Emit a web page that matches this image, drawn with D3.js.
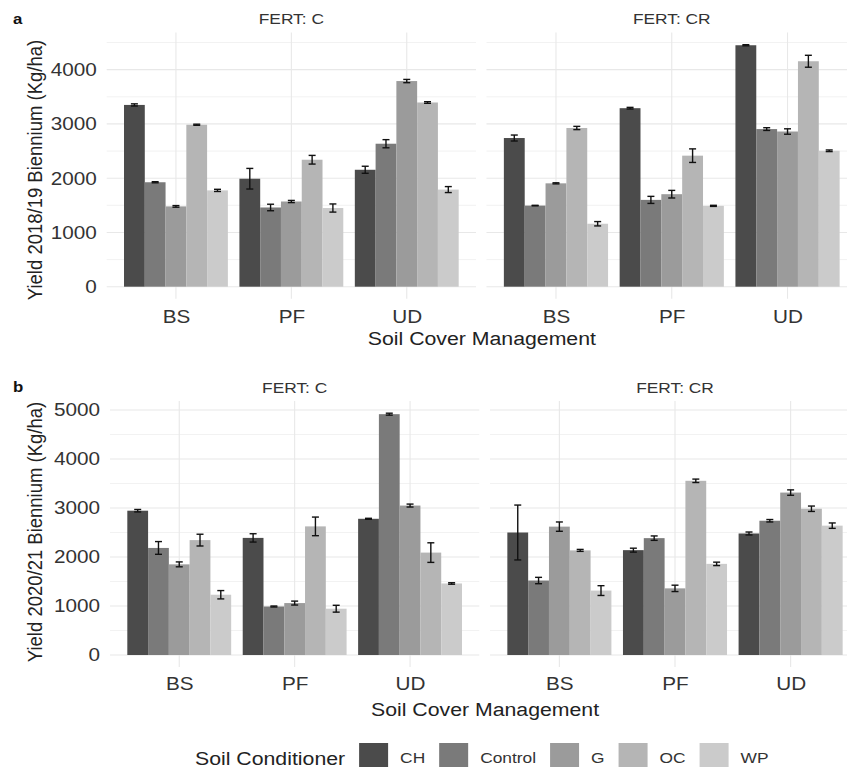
<!DOCTYPE html>
<html>
<head>
<meta charset="utf-8">
<script src="https://cdn.jsdelivr.net/npm/d3@7"></script>
<style>
  html, body { margin: 0; padding: 0; background: #ffffff; }
  svg { display: block; font-family: "Liberation Sans", Arial, Helvetica, sans-serif; }
</style>
</head>
<body>
<script>
// Soil cover management levels, soil conditioners and fertilisation treatments
const covers = ["BS", "PF", "UD"];
const conditioners = ["CH", "Control", "G", "OC", "WP"];
const ferts = ["C", "CR"];

// Mean yields (Kg/ha), ordered BS(CH, Control, G, OC, WP), PF(...), UD(...)
const yield1819C  = [3350, 1925, 1480, 2985, 1775,  1990, 1460, 1570, 2340, 1450,  2155, 2635, 3790, 3395, 1790];
const se1819C     = [20, 10, 15, 10, 20,  190, 60, 20, 80, 75,  65, 75, 30, 15, 55];
const yield1819CR = [2740, 1495, 1905, 2925, 1160,  3290, 1600, 1705, 2415, 1490,  4450, 2905, 2860, 4155, 2505];
const se1819CR    = [55, 5, 10, 30, 40,  15, 65, 70, 125, 10,  10, 25, 50, 110, 15];

const yield2021C  = [2945, 2185, 1850, 2345, 1230,  2390, 990, 1060, 2625, 945,  2780, 4915, 3050, 2090, 1460];
const se2021C     = [25, 130, 50, 120, 85,  85, 10, 40, 190, 70,  10, 20, 30, 200, 15];
const yield2021CR = [2500, 1520, 2620, 2135, 1315,  2140, 2385, 1360, 3555, 1860,  2480, 2740, 3315, 2985, 2640];
const se2021CR    = [560, 65, 95, 20, 100,  40, 45, 65, 35, 35,  30, 25, 55, 55, 55];

const yTicks1819 = [0, 1000, 2000, 3000, 4000];
const yTicks2021 = [0, 1000, 2000, 3000, 4000, 5000];

const greyFill = ["#4b4b4b", "#7a7a7a", "#9b9b9b", "#b5b5b5", "#cbcbcb"];

const W = 847, H = 769;
const SX = 1.12; // horizontal text stretch
const FONT = '"Liberation Sans", Arial, Helvetica, sans-serif';

const rows = [
  {
    tag: "a", tagY: 24,
    title: "Yield 2018/19 Biennium (Kg/ha)", titleY: 170,
    means: { C: yield1819C, CR: yield1819CR },
    se: { C: se1819C, CR: se1819CR },
    ticks: yTicks1819,
    panels: [[106.7, 476], [486.5, 857]],
    top: 32.6, bottom: 298.8,
    stripY: 24, tickPad: 10.6, xTitleY: 345
  },
  {
    tag: "b", tagY: 392,
    title: "Yield 2020/21 Biennium (Kg/ha)", titleY: 532,
    means: { C: yield2021C, CR: yield2021CR },
    se: { C: se2021C, CR: se2021CR },
    ticks: yTicks2021,
    panels: [[110, 479.3], [490, 860]],
    top: 401.1, bottom: 667.1,
    stripY: 392.5, tickPad: 9.6, xTitleY: 716
  }
];

const color = d3.scaleOrdinal().domain(conditioners).range(greyFill);

const svg = d3.select("body").append("svg")
  .attr("width", W).attr("height", H)
  .attr("font-family", FONT);

svg.append("rect").attr("width", W).attr("height", H).attr("fill", "#ffffff");

rows.forEach(row => {
  const maxV = d3.max(ferts.flatMap(f => row.means[f].map((m, i) => m + row.se[f][i])));
  const pad = 0.05 * maxV;
  const y = d3.scaleLinear().domain([-pad, maxV + pad]).range([row.bottom, row.top]);
  const minorTicks = d3.range(500, maxV + pad, 1000);

  ferts.forEach((f, pi) => {
    const [x0, x1] = row.panels[pi];
    const x = d3.scalePoint().domain(covers).range([x0, x1]).padding(0.6);
    const inner = d3.scaleBand().domain(conditioners)
      .range([-0.45 * x.step(), 0.45 * x.step()]);

    const g = svg.append("g");

    // minor horizontal grid
    g.append("g").selectAll("line").data(minorTicks).join("line")
      .attr("x1", x0).attr("x2", x1)
      .attr("y1", d => y(d)).attr("y2", d => y(d))
      .attr("stroke", "#f0f0f0").attr("stroke-width", 0.9);

    // major horizontal grid
    g.append("g").selectAll("line").data(row.ticks).join("line")
      .attr("x1", x0).attr("x2", x1)
      .attr("y1", d => y(d)).attr("y2", d => y(d))
      .attr("stroke", "#e8e8e8").attr("stroke-width", 1.1);

    // vertical grid at each cover category
    g.append("g").selectAll("line").data(covers).join("line")
      .attr("x1", d => x(d)).attr("x2", d => x(d))
      .attr("y1", row.top).attr("y2", row.bottom)
      .attr("stroke", "#e8e8e8").attr("stroke-width", 1.1);

    const data = covers.flatMap((c, ci) => conditioners.map((k, ki) => ({
      cover: c, cond: k,
      v: row.means[f][ci * conditioners.length + ki],
      e: row.se[f][ci * conditioners.length + ki]
    })));

    // bars
    g.append("g").selectAll("rect").data(data).join("rect")
      .attr("x", d => x(d.cover) + inner(d.cond))
      .attr("width", inner.bandwidth())
      .attr("y", d => y(d.v))
      .attr("height", d => y(0) - y(d.v))
      .attr("fill", d => color(d.cond));

    // error bars
    const capHalf = 3.5;
    const eb = g.append("g").attr("stroke", "#111111").attr("stroke-width", 1.4)
      .selectAll("g").data(data).join("g")
      .attr("transform", d => `translate(${x(d.cover) + inner(d.cond) + inner.bandwidth() / 2},0)`);
    eb.append("line").attr("x1", 0).attr("x2", 0)
      .attr("y1", d => y(d.v - d.e)).attr("y2", d => y(d.v + d.e));
    eb.append("line").attr("x1", -capHalf).attr("x2", capHalf)
      .attr("y1", d => y(d.v + d.e)).attr("y2", d => y(d.v + d.e));
    eb.append("line").attr("x1", -capHalf).attr("x2", capHalf)
      .attr("y1", d => y(d.v - d.e)).attr("y2", d => y(d.v - d.e));

    // x axis (category labels)
    const xa = g.append("g").attr("transform", `translate(0,${row.bottom})`)
      .call(d3.axisBottom(x).tickSize(0).tickPadding(row.tickPad));
    xa.attr("font-family", FONT).attr("font-size", null);
    xa.select(".domain").remove();
    xa.selectAll("text")
      .attr("font-size", 18.5).attr("fill", "#333333")
      .attr("transform", `scale(${SX},1)`);

    // facet strip label
    g.append("text")
      .attr("transform", `translate(${(x0 + x1) / 2},${row.stripY}) scale(${SX},1)`)
      .attr("text-anchor", "middle")
      .attr("font-size", 15.5).attr("fill", "#333333")
      .text("FERT: " + f);

    if (pi === 0) {
      const ya = g.append("g").attr("transform", `translate(${x0},0)`)
        .call(d3.axisLeft(y).tickValues(row.ticks).tickFormat(d3.format("d"))
          .tickSize(0).tickPadding(10 / SX));
      ya.attr("font-family", FONT).attr("font-size", null);
      ya.select(".domain").remove();
      ya.selectAll("text")
        .attr("font-size", 18.5).attr("fill", "#333333")
        .attr("transform", `scale(${SX},1)`);
    }
  });

  // y axis title
  svg.append("text")
    .attr("transform", `translate(42,${row.titleY}) scale(${SX},1) rotate(-90)`)
    .attr("text-anchor", "middle")
    .attr("font-size", 18.5).attr("fill", "#222222")
    .text(row.title);

  // x axis title
  const xc = (row.panels[0][0] + row.panels[1][1]) / 2;
  svg.append("text")
    .attr("transform", `translate(${xc},${row.xTitleY}) scale(${SX},1)`)
    .attr("text-anchor", "middle")
    .attr("font-size", 19).attr("fill", "#222222")
    .text("Soil Cover Management");

  // panel tag
  svg.append("text")
    .attr("transform", `translate(13,${row.tagY}) scale(${SX},1)`)
    .attr("font-size", 15).attr("font-weight", "bold").attr("fill", "#111111")
    .text(row.tag);
});

// legend
const legend = svg.append("g");
const legTitle = legend.append("text")
  .attr("transform", `translate(195,765) scale(${SX},1)`)
  .attr("font-size", 19).attr("fill", "#222222")
  .text("Soil Conditioner");
let cx = 195 + legTitle.node().getComputedTextLength() * SX + 14;
conditioners.forEach(k => {
  legend.append("rect")
    .attr("x", cx).attr("y", 743).attr("width", 29).attr("height", 24)
    .attr("fill", color(k));
  const lx = cx + 29 + 12;
  const t = legend.append("text")
    .attr("transform", `translate(${lx},762.5) scale(${SX},1)`)
    .attr("font-size", 15.5).attr("fill", "#333333")
    .text(k);
  cx = lx + t.node().getComputedTextLength() * SX + 14;
});
</script>
</body>
</html>
